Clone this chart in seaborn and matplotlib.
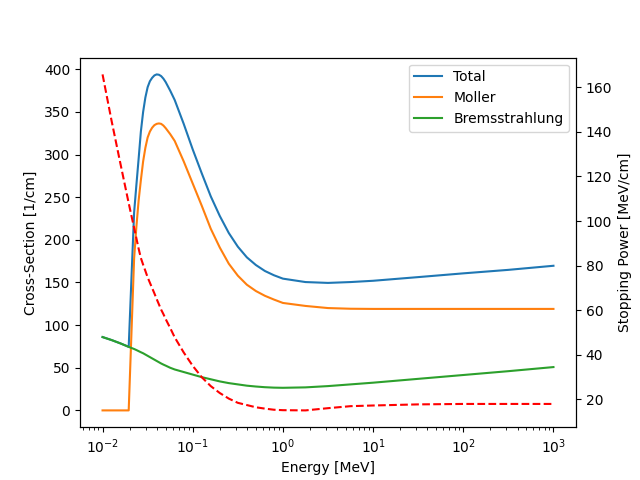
import numpy as np
import matplotlib
matplotlib.use('Agg')
import matplotlib.pyplot as plt
import seaborn as sns

# Energies, stored as log10(E [MeV])
log_energy = [-2.00, -1.90, -1.80, -1.71, -1.65, -1.625, -1.60, -1.575, -1.55, -1.525,
              -1.50, -1.475, -1.45, -1.425, -1.40, -1.375, -1.35, -1.325, -1.30, -1.25,
              -1.20, -1.10, -1.00, -0.90, -0.80, -0.70, -0.60, -0.50, -0.40, -0.30,
              -0.20, -0.10, 0.00, 0.25, 0.50, 0.75, 1.00, 1.50, 2.00, 2.50,
              3.00]

# Cross-sections [1/cm]
moller = [0, 0, 0, 0, 178, 215, 246, 270, 292, 308,
          320, 327, 331.5, 334.5, 336, 336.5, 336, 334, 331, 324,
          316, 292, 266, 240, 213, 191, 172, 158, 147.4, 140,
          134.4, 130, 126, 122.5, 120, 119.2, 119, 119, 119, 119,
          119]

brems = [86, 82.5, 78.5, 74.5, 72, 70.8, 69.5, 68.2, 67, 65.5,
         64, 62.5, 61, 59.5, 58, 56.5, 55, 53.7, 52.5, 50,
         48, 45, 42, 39, 36.5, 34, 32, 30.5, 29, 28,
         27.2, 26.7, 26.5, 27, 28.5, 30.5, 32.5, 37, 41.5, 46,
         50.8]

total = [86, 82.5, 78.5, 74.5, 232, 264, 295, 327, 350, 367,
         379, 386, 390, 392.8, 394, 393.6, 392, 389, 385, 375,
         364, 336, 306, 278, 251, 228, 208, 192, 179.5, 170.5,
         163.5, 158.5, 154.5, 150.5, 149.5, 150.5, 152, 156.3, 160.7, 164.8,
         169.6]

# Stopping power [MeV/cm]
stopping = [165.8, 145, 125.4, 108, 96.9, 92.3, 87.6, 83.4, 80.4, 77.6,
            74.7, 72.3, 69.9, 67.5, 65, 62.6, 60.2, 58.2, 56, 52,
            47.8, 41, 35, 29.9, 25.9, 22.8, 20.3, 18.4, 17.4, 16.4,
            15.8, 15.3, 15.1, 15.0, 16.0, 16.9, 17.2, 17.7, 17.9, 17.9,
            17.9]

energy = 10.0 ** np.array(log_energy)

fig, ax1 = plt.subplots(figsize=(6.4, 4.8), dpi=100)

sns.lineplot(x=energy, y=total, ax=ax1, label='Total', color='C0')
sns.lineplot(x=energy, y=moller, ax=ax1, label='Moller', color='C1')
sns.lineplot(x=energy, y=brems, ax=ax1, label='Bremsstrahlung', color='C2')
ax1.set_xscale('log')
ax1.set_xlabel('Energy [MeV]')
ax1.set_ylabel('Cross-Section [1/cm]')
ax1.legend(loc='upper right')

ax2 = ax1.twinx()
sns.lineplot(x=energy, y=stopping, ax=ax2, color='r', linestyle='--')
ax2.set_ylabel('Stopping Power [MeV/cm]')

plt.savefig('out.png', dpi=100)
